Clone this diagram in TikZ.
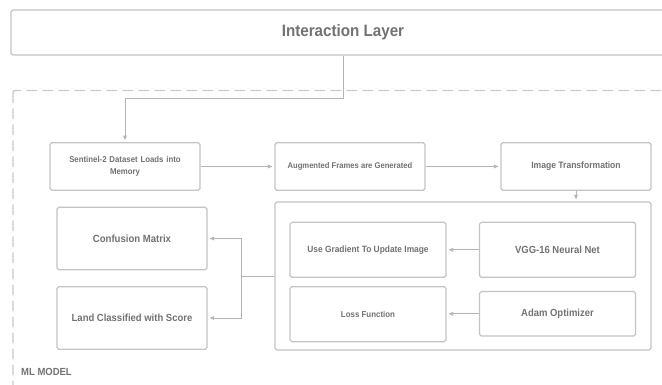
\documentclass[tikz,border=0pt]{standalone}
\usepackage{fontspec}
\setmainfont{Liberation Sans}[FakeStretch=0.92]
\usetikzlibrary{arrows.meta}
\definecolor{boxline}{HTML}{C4C4C4}
\definecolor{txt}{HTML}{727272}
\definecolor{connc}{HTML}{B4B4B4}
\definecolor{dashc}{HTML}{CACACA}
\begin{document}
\begin{tikzpicture}[x=1pt,y=-1pt,
  box/.style={draw=boxline, line width=1.2pt, rounded corners=1.8pt, text=txt, align=center, inner sep=0pt},
  conn/.style={draw=connc, line width=0.8pt, shorten >=2pt, -{Triangle[length=4.5pt,width=3.6pt]}},
  plain/.style={draw=connc, line width=0.8pt},
]
\useasboundingbox (0,0) rectangle (662,385);
\clip (0,0) rectangle (662,385);
\fill[white] (0,0) rectangle (662,385);

% outer dashed container
\draw[dashc, line width=1.4pt, dash pattern=on 10.5pt off 5.5pt, rounded corners=2pt] (13,90.5) rectangle (690,420);
\node[anchor=west, text=txt, inner sep=0pt, font=\bfseries\fontsize{10.3}{12}\selectfont] (mlmodel) at (21,371.5) {ML MODEL};

% interaction layer
\node[box, minimum width=664pt, minimum height=45pt, font=\bfseries\fontsize{16.5}{18}\selectfont] (inter) at (343,32.5) {Interaction Layer};

% top row
\node[box, minimum width=150pt, minimum height=47.5pt, text width=140pt, font=\bfseries\fontsize{8.5}{12}\selectfont] (sent) at (125,166.5) {Sentinel-2 Dataset Loads into\\Memory};
\node[box, minimum width=150pt, minimum height=47.5pt, font=\bfseries\fontsize{8.3}{10}\selectfont] (aug) at (350,166.5) {Augmented Frames are Generated};
\node[box, minimum width=150pt, minimum height=47.5pt, font=\bfseries\fontsize{9.3}{11}\selectfont] (imgt) at (576,166.5) {Image Transformation};

% big container
\node[box, minimum width=376pt, minimum height=148pt] (big) at (463,276) {};
\node[box, minimum width=156pt, minimum height=55pt, font=\bfseries\fontsize{9.1}{11}\selectfont] (grad) at (368,249.8) {Use Gradient To Update Image};
\node[box, minimum width=156pt, minimum height=55pt, font=\bfseries\fontsize{10.3}{12}\selectfont] (vgg) at (557.5,249.8) {VGG-16 Neural Net};
\node[box, minimum width=156pt, minimum height=55pt, font=\bfseries\fontsize{8.6}{11}\selectfont] (loss) at (368,314.2) {Loss Function};
\node[box, minimum width=156pt, minimum height=44.5pt, font=\bfseries\fontsize{10.3}{12}\selectfont] (adam) at (557.5,313.8) {Adam Optimizer};

% outputs
\node[box, minimum width=150pt, minimum height=62.5pt, font=\bfseries\fontsize{10.4}{12}\selectfont] (conf) at (132,238.5) {Confusion Matrix};
\node[box, minimum width=150pt, minimum height=62.5pt, font=\bfseries\fontsize{10.3}{12}\selectfont] (land) at (132,318) {Land Classified with Score};

% connectors
\coordinate (j1) at (343,98.5);
\coordinate (j2) at (125,98.5);
\draw[conn] (inter.south -| j1) -- (j1) -- (j2) -- (sent.north);
\draw[conn] (sent) -- (aug);
\draw[conn] (aug) -- (imgt);
\draw[conn] (imgt.south) -- (big.north -| imgt.south);
\draw[conn] (vgg) -- (grad);
\draw[conn] (adam.west) -- (adam.west -| loss.east);
\coordinate (split) at (241.5,276);
\draw[plain] (big.west) -- (split);
\draw[conn] (split) |- (conf.east);
\draw[conn] (split) |- (land.east);
\end{tikzpicture}
\end{document}
